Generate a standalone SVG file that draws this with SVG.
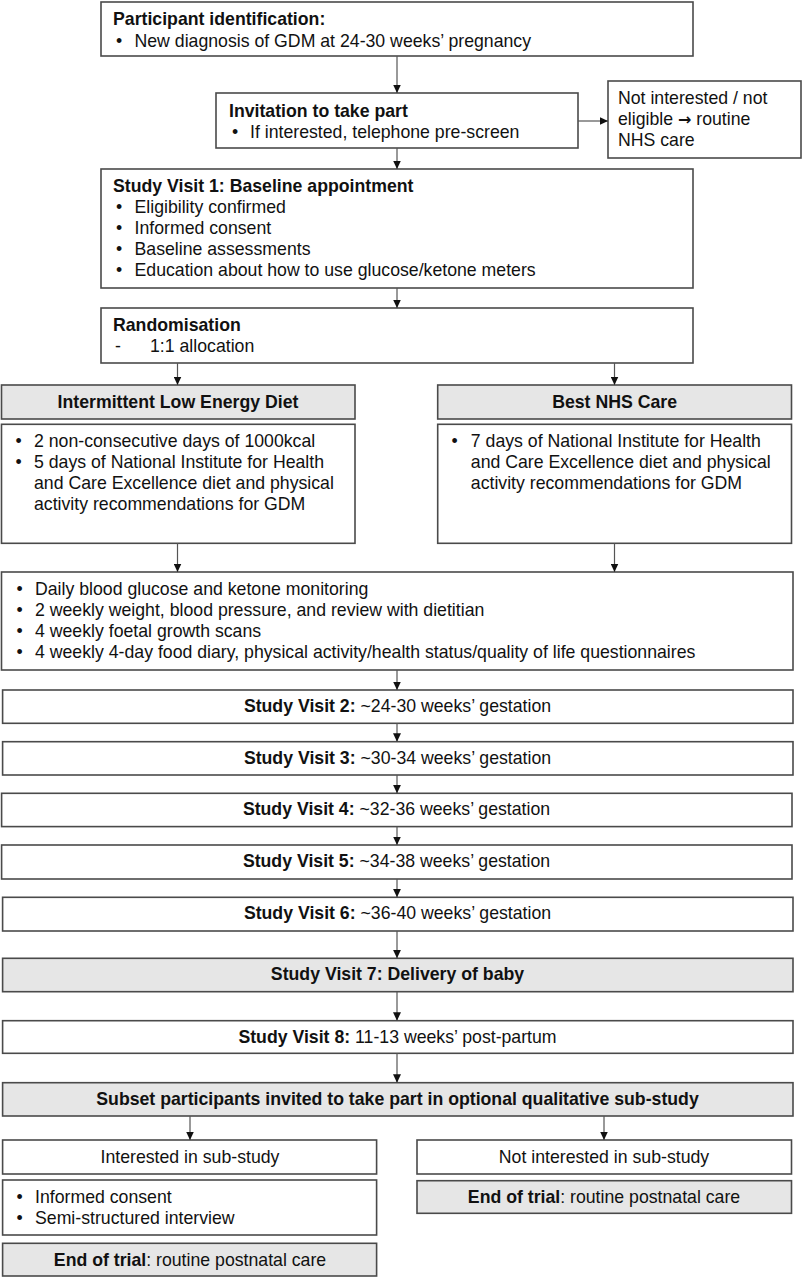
<svg xmlns="http://www.w3.org/2000/svg" width="806" height="1280" viewBox="0 0 806 1280">
<style>
text{font-family:"Liberation Sans",Arial,Helvetica,sans-serif;font-size:17.7px;fill:#111}
.b{font-weight:bold}
.c{text-anchor:middle}
.arw{font-family:"DejaVu Sans",sans-serif;font-weight:bold;font-size:16px}
.box{fill:#fff;stroke:#4a4a4a;stroke-width:1.6}
.gbox{fill:#e6e6e6;stroke:#4a4a4a;stroke-width:1.6}
.ln{stroke:#555;stroke-width:1.2;fill:none;marker-end:url(#ah)}
</style>
<defs>
<marker id="ah" markerUnits="userSpaceOnUse" markerWidth="9" markerHeight="8" refX="8.5" refY="4" orient="auto">
<path d="M0,0 L8.5,4 L0,8 z" fill="#111"/>
</marker>
</defs>
<rect width="806" height="1280" fill="#fff"/>

<g id="participant">
<rect class="box" x="101" y="2" width="592" height="54"/>
<text x="113" y="24.5" class="b">Participant identification:</text>
<text x="116" y="46.5">•</text><text x="134.5" y="46.5">New diagnosis of GDM at 24-30 weeks’ pregnancy</text>
</g>

<g id="invitation">
<rect class="box" x="216" y="93" width="362" height="55"/>
<text x="229" y="116.5" class="b">Invitation to take part</text>
<text x="232" y="137.5">•</text><text x="250" y="137.5">If interested, telephone pre-screen</text>
</g>

<g id="notinterested">
<rect class="box" x="608" y="81" width="193" height="77"/>
<text x="618" y="104">Not interested / not</text>
<text x="618" y="125">eligible <tspan class="arw">→</tspan> routine</text>
<text x="618" y="146">NHS care</text>
</g>

<g id="visit1">
<rect class="box" x="101" y="169" width="592" height="119"/>
<text x="113" y="191.5" class="b">Study Visit 1: Baseline appointment</text>
<text x="116" y="212.5">•</text><text x="134.5" y="212.5">Eligibility confirmed</text>
<text x="116" y="233.5">•</text><text x="134.5" y="233.5">Informed consent</text>
<text x="116" y="254.5">•</text><text x="134.5" y="254.5">Baseline assessments</text>
<text x="116" y="275.5">•</text><text x="134.5" y="275.5">Education about how to use glucose/ketone meters</text>
</g>

<g id="randomisation">
<rect class="box" x="101" y="308" width="592" height="55"/>
<text x="113" y="331" class="b">Randomisation</text>
<text x="115" y="352">-</text><text x="150" y="352">1:1 allocation</text>
</g>

<g id="iled-header">
<rect class="gbox" x="1.5" y="385" width="353.5" height="34"/>
<text x="178" y="408" class="b c">Intermittent Low Energy Diet</text>
</g>

<g id="nhs-header">
<rect class="gbox" x="437.7" y="385" width="353.8" height="34"/>
<text x="614.6" y="408" class="b c">Best NHS Care</text>
</g>

<g id="iled-body">
<rect class="box" x="1.5" y="424.3" width="353.5" height="119"/>
<text x="15.5" y="447">•</text><text x="34" y="447">2 non-consecutive days of 1000kcal</text>
<text x="15.5" y="468">•</text><text x="34" y="468">5 days of National Institute for Health</text>
<text x="34" y="489">and Care Excellence diet and physical</text>
<text x="34" y="510">activity recommendations for GDM</text>
</g>

<g id="nhs-body">
<rect class="box" x="437.7" y="424.3" width="353.8" height="119"/>
<text x="451.6" y="447">•</text><text x="470.8" y="447">7 days of National Institute for Health</text>
<text x="470.8" y="468">and Care Excellence diet and physical</text>
<text x="470.8" y="489">activity recommendations for GDM</text>
</g>

<g id="monitoring">
<rect class="box" x="1.5" y="572" width="791.5" height="98"/>
<text x="16.5" y="595">•</text><text x="35" y="595">Daily blood glucose and ketone monitoring</text>
<text x="16.5" y="616">•</text><text x="35" y="616">2 weekly weight, blood pressure, and review with dietitian</text>
<text x="16.5" y="637">•</text><text x="35" y="637">4 weekly foetal growth scans</text>
<text x="16.5" y="658">•</text><text x="35" y="658">4 weekly 4-day food diary, physical activity/health status/quality of life questionnaires</text>
</g>

<g id="visit2">
<rect class="box" x="2.6" y="690" width="790.4" height="33.3"/>
<text x="397.5" y="712" class="c"><tspan class="b">Study Visit 2:</tspan> ~24-30 weeks’ gestation</text>
</g>
<g id="visit3">
<rect class="box" x="2.6" y="741.7" width="790.4" height="33.3"/>
<text x="397.5" y="763.5" class="c"><tspan class="b">Study Visit 3:</tspan> ~30-34 weeks’ gestation</text>
</g>
<g id="visit4">
<rect class="box" x="1.6" y="793.3" width="790.4" height="33.3"/>
<text x="396.5" y="815" class="c"><tspan class="b">Study Visit 4:</tspan> ~32-36 weeks’ gestation</text>
</g>
<g id="visit5">
<rect class="box" x="1.6" y="845" width="790.4" height="34"/>
<text x="396.5" y="867" class="c"><tspan class="b">Study Visit 5:</tspan> ~34-38 weeks’ gestation</text>
</g>
<g id="visit6">
<rect class="box" x="2.6" y="897.3" width="790.4" height="33.7"/>
<text x="397.5" y="919.3" class="c"><tspan class="b">Study Visit 6:</tspan> ~36-40 weeks’ gestation</text>
</g>
<g id="visit7">
<rect class="gbox" x="2.6" y="958.3" width="790.4" height="33.4"/>
<text x="397.5" y="980" class="c b">Study Visit 7: Delivery of baby</text>
</g>
<g id="visit8">
<rect class="box" x="2.6" y="1020.7" width="790.4" height="32.6"/>
<text x="397.5" y="1042.5" class="c"><tspan class="b">Study Visit 8:</tspan> 11-13 weeks’ post-partum</text>
</g>
<g id="subset">
<rect class="gbox" x="2.6" y="1082.7" width="790.4" height="33.3"/>
<text x="397.5" y="1105" class="c b">Subset participants invited to take part in optional qualitative sub-study</text>
</g>

<g id="interested">
<rect class="box" x="2.6" y="1140" width="374" height="34"/>
<text x="190" y="1163" class="c">Interested in sub-study</text>
</g>
<g id="notinterested-sub">
<rect class="box" x="417" y="1140" width="374.5" height="34"/>
<text x="604" y="1163" class="c">Not interested in sub-study</text>
</g>
<g id="interview">
<rect class="box" x="2.6" y="1180" width="374" height="55"/>
<text x="16.5" y="1203">•</text><text x="35" y="1203">Informed consent</text>
<text x="16.5" y="1224">•</text><text x="35" y="1224">Semi-structured interview</text>
</g>
<g id="end-left">
<rect class="gbox" x="2.6" y="1243.3" width="374" height="32.7"/>
<text x="190" y="1265.5" class="c"><tspan class="b">End of trial</tspan>: routine postnatal care</text>
</g>
<g id="end-right">
<rect class="gbox" x="417" y="1180.7" width="374.5" height="32.6"/>
<text x="604" y="1203" class="c"><tspan class="b">End of trial</tspan>: routine postnatal care</text>
</g>

<g id="connectors">
<line class="ln" x1="397" y1="56" x2="397" y2="93"/>
<line class="ln" x1="578" y1="121" x2="608" y2="121"/>
<line class="ln" x1="397" y1="148" x2="397" y2="169"/>
<line class="ln" x1="397" y1="288" x2="397" y2="308"/>
<line class="ln" x1="177.5" y1="363" x2="177.5" y2="385"/>
<line class="ln" x1="614.5" y1="363" x2="614.5" y2="385"/>
<line class="ln" x1="177.5" y1="543.3" x2="177.5" y2="572"/>
<line class="ln" x1="614.5" y1="543.3" x2="614.5" y2="572"/>
<line class="ln" x1="397" y1="670" x2="397" y2="690"/>
<line class="ln" x1="397" y1="723.3" x2="397" y2="741.7"/>
<line class="ln" x1="397" y1="775" x2="397" y2="793.3"/>
<line class="ln" x1="397" y1="826.6" x2="397" y2="845"/>
<line class="ln" x1="397" y1="879" x2="397" y2="897.3"/>
<line class="ln" x1="397" y1="931" x2="397" y2="958.3"/>
<line class="ln" x1="397" y1="991.7" x2="397" y2="1020.7"/>
<line class="ln" x1="397" y1="1053.3" x2="397" y2="1082.7"/>
<line class="ln" x1="190" y1="1116" x2="190" y2="1140"/>
<line class="ln" x1="604" y1="1116" x2="604" y2="1140"/>
</g>
</svg>
